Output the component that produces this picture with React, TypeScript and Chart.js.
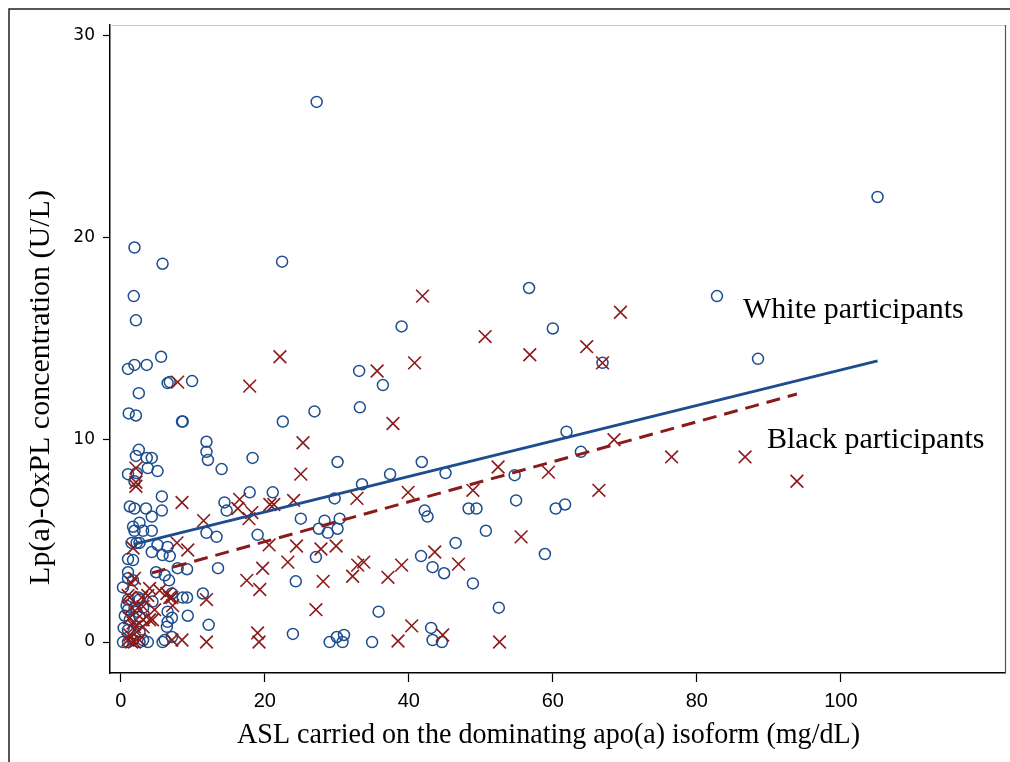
import React, { useEffect, useRef } from 'react';
import { Chart, registerables } from 'chart.js';

Chart.register(...registerables);

// White participants: ASL (mg/dL) and Lp(a)-OxPL (U/L)
const whiteAsl = [
  27.2, 105.1, 1.9, 5.8, 22.4, 1.8, 56.7, 82.8, 2.1, 39.0, 60.0, 88.5, 1.0, 1.9, 3.6, 5.6, 33.1, 36.4, 6.5, 6.8,
  9.9, 66.9, 2.5, 1.1, 2.1, 8.5, 8.6, 22.5, 26.9, 33.2, 61.9, 41.8, 30.1, 18.3, 11.9, 11.9, 12.1, 14.0, 37.4, 45.1,
  63.9, 54.7, 2.5, 2.1, 3.6, 4.3, 3.75, 5.1, 1.0, 2.2, 1.9, 33.5, 29.7, 54.9, 5.7, 14.4, 14.7, 17.9, 21.1, 1.25,
  1.9, 3.5, 5.7, 4.3, 1.7, 1.9, 2.6, 3.1, 4.3, 11.9, 13.3, 19.0, 25.0, 28.3, 30.4, 27.5, 28.75, 30.1, 42.2, 42.6,
  48.3, 49.4, 60.4, 61.7, 50.7, 46.5, 58.9, 27.1, 41.7, 43.3, 44.9, 48.9, 24.3, 52.5, 35.8, 23.9, 43.1, 29.0, 30.0, 31.0,
  30.8, 34.9, 43.3, 44.6, 2.2, 1.5, 2.6, 5.1, 6.5, 4.3, 5.8, 6.8, 1.0, 1.7, 13.5, 4.9, 6.7, 6.1, 1.0, 1.0,
  1.7, 7.9, 9.2, 11.4, 7.1, 8.6, 9.2, 4.4, 2.6, 1.0, 6.5, 9.3, 1.0, 2.2, 1.25, 2.6, 6.5, 7.1, 12.2, 1.0,
  2.6, 6.4, 7.1, 1.0, 1.7, 2.6, 3.1, 3.75, 5.8, 0.3, 0.4, 0.55, 0.3, 2.4, 3.1, 0.8, 1.9, 6.1,
];
const whiteOxpl = [
  26.7, 22.0, 19.5, 18.7, 18.8, 17.1, 17.5, 17.1, 15.9, 15.6, 15.5, 14.0, 13.5, 13.7, 13.7, 14.1, 13.4, 12.7, 12.8, 12.85,
  12.9, 13.8, 12.3, 11.3, 11.2, 10.9, 10.9, 10.9, 11.4, 11.6, 10.4, 8.9, 8.9, 9.1, 9.9, 9.4, 9.0, 8.55, 8.3, 8.35,
  9.4, 8.25, 9.5, 9.2, 9.1, 9.1, 8.6, 8.45, 8.3, 8.35, 7.95, 7.8, 7.1, 7.0, 7.2, 6.9, 6.5, 7.4, 7.4, 6.7,
  6.6, 6.6, 6.5, 6.2, 5.7, 5.5, 5.9, 5.5, 5.5, 5.4, 5.2, 5.3, 6.1, 6.0, 6.1, 5.6, 5.4, 5.6, 6.5, 6.2,
  6.6, 6.6, 6.6, 6.8, 5.5, 4.9, 4.35, 4.2, 4.25, 3.7, 3.4, 2.9, 3.0, 1.7, 1.5, 0.4, 0.7, 0.0, 0.25, 0.35,
  0.0, 0.0, 0.1, 0.0, 4.9, 4.9, 4.9, 4.8, 4.7, 4.45, 4.3, 4.25, 4.1, 4.05, 3.65, 3.45, 3.05, 3.3, 3.45, 3.15,
  3.05, 3.65, 3.6, 2.4, 2.4, 2.2, 2.2, 2.0, 2.1, 2.1, 1.5, 1.3, 1.6, 1.5, 1.1, 1.25, 1.0, 1.2, 0.85, 0.6,
  0.5, 0.75, 0.25, 0.0, 0.1, 0.0, 0.1, 0.0, 0.0, 0.0, 0.7, 1.3, 2.7, 2.2, 1.7, 1.8, 1.7, 0.1,
];

// Black participants
const blackAsl = [
  41.9, 69.4, 50.6, 64.7, 56.8, 22.1, 40.8, 35.6, 66.9, 7.9, 17.9, 37.8, 25.3, 68.5, 76.5, 86.7, 93.9, 66.4, 25.0, 52.4,
  59.4, 39.9, 48.9, 32.8, 24.0, 16.5, 16.25, 18.2, 17.8, 20.7, 21.25, 11.5, 8.5, 2.1, 2.1, 2.1, 20.6, 24.4, 23.2, 19.7,
  17.5, 19.3, 11.9, 27.1, 11.9, 19.0, 19.2, 27.8, 29.9, 28.1, 32.2, 32.9, 33.75, 37.1, 39.0, 43.6, 46.9, 55.6, 40.4, 44.7,
  38.5, 52.6, 7.8, 9.3, 1.7, 1.9, 1.5, 4.0, 5.4, 6.4, 7.1, 1.25, 2.9, 1.5, 3.1, 4.7, 7.2, 1.25, 3.1, 4.0,
  1.9, 3.1, 1.25, 1.0, 1.9, 7.1, 8.5, 3.75, 1.0, 6.8, 2.4, 4.4, 1.7, 2.2, 1.5, 2.6,
];
const blackOxpl = [
  17.1, 16.3, 15.1, 14.6, 14.2, 14.1, 13.8, 13.4, 13.8, 12.85, 12.65, 10.8, 9.85, 10.0, 9.15, 9.15, 7.95, 7.5, 8.3, 8.65,
  8.4, 7.4, 7.5, 7.1, 7.0, 7.05, 6.6, 6.4, 6.1, 6.8, 6.8, 6.0, 6.9, 8.6, 7.9, 7.7, 4.8, 4.75, 3.95, 3.65,
  3.05, 2.6, 2.1, 1.6, 0.0, 0.45, 0.0, 4.6, 4.75, 3.0, 3.25, 3.8, 3.95, 3.2, 3.8, 4.45, 3.85, 5.2, 0.8, 0.35,
  0.05, 0.0, 4.9, 4.55, 4.65, 3.15, 2.9, 2.65, 2.55, 2.4, 2.2, 2.2, 2.2, 1.7, 1.75, 1.6, 1.8, 1.2, 1.1, 1.1,
  0.75, 0.75, 0.35, 0.1, 0.0, 0.1, 0.1, 2.3, 2.3, 2.2, 1.7, 1.1, 0.95, 0.5, 0.0, 0.1,
];

// Fitted lines (end points)
const whiteFitX = [1.9, 105.1];
const whiteFitY = [4.84, 13.9];
const blackFitX = [4.3, 93.9];
const blackFitY = [3.41, 12.26];

const xTicks = [0, 20, 40, 60, 80, 100];
const yTicks = [0, 10, 20, 30];

const xTitle = 'ASL carried on the dominating apo(a) isoform (mg/dL)';
const yTitle = 'Lp(a)-OxPL concentration (U/L)';
const whiteLabel = 'White participants';
const blackLabel = 'Black participants';

const BLUE = '#1d4d8e';
const RED = '#8b1a1a';

const toPoints = (xs: number[], ys: number[]) => xs.map((x, i) => ({ x, y: ys[i] }));

export default function App() {
  const ref = useRef<HTMLCanvasElement>(null);

  useEffect(() => {
    if (!ref.current) return;
    const decor = {
      id: 'decor',
      beforeDraw(chart: any) {
        const ctx = chart.ctx;
        ctx.save();
        ctx.fillStyle = '#fff';
        ctx.fillRect(0, 0, chart.width, chart.height);
        ctx.strokeStyle = '#222';
        ctx.lineWidth = 1.5;
        ctx.beginPath();
        ctx.moveTo(9, chart.height);
        ctx.lineTo(9, 9);
        ctx.lineTo(chart.width, 9);
        ctx.stroke();
        ctx.restore();
      },
      afterDraw(chart: any) {
        const ctx = chart.ctx;
        const a = chart.chartArea;
        ctx.save();
        ctx.lineWidth = 1;
        ctx.strokeStyle = '#c8c8c8';
        ctx.beginPath();
        ctx.moveTo(a.left, a.top + 0.5);
        ctx.lineTo(a.right, a.top + 0.5);
        ctx.stroke();
        ctx.strokeStyle = '#555';
        ctx.lineWidth = 1.2;
        ctx.beginPath();
        ctx.moveTo(a.right + 0.5, a.top);
        ctx.lineTo(a.right + 0.5, a.bottom);
        ctx.stroke();

        ctx.fillStyle = '#000';
        ctx.font = '30px "Liberation Serif", "Times New Roman", serif';
        ctx.textBaseline = 'alphabetic';
        ctx.textAlign = 'center';
        ctx.fillText(xTitle, 548.5, 743, 623);
        ctx.save();
        ctx.translate(49, 387.5);
        ctx.rotate(-Math.PI / 2);
        ctx.fillText(yTitle, 0, 0);
        ctx.restore();
        ctx.textAlign = 'left';
        ctx.fillText(whiteLabel, 743, 318);
        ctx.fillText(blackLabel, 767, 448);
        ctx.restore();
      },
    };

    const chart = new Chart(ref.current, {
      type: 'scatter',
      data: {
        datasets: [
          {
            type: 'line',
            label: 'White fit',
            data: toPoints(whiteFitX, whiteFitY),
            borderColor: BLUE,
            borderWidth: 3,
            pointRadius: 0,
            fill: false,
            order: 0,
          } as any,
          {
            type: 'line',
            label: 'Black fit',
            data: toPoints(blackFitX, blackFitY),
            borderColor: RED,
            borderWidth: 3,
            borderDash: [14, 8],
            pointRadius: 0,
            fill: false,
            order: 1,
          } as any,
          {
            label: 'Black participants',
            data: toPoints(blackAsl, blackOxpl),
            pointStyle: 'crossRot',
            pointRadius: 9,
            borderColor: RED,
            backgroundColor: RED,
            borderWidth: 1.6,
            order: 2,
          },
          {
            label: 'White participants',
            data: toPoints(whiteAsl, whiteOxpl),
            pointStyle: 'circle',
            pointRadius: 5.5,
            borderColor: BLUE,
            backgroundColor: 'rgba(0,0,0,0)',
            borderWidth: 1.5,
            order: 3,
          },
        ],
      },
      options: {
        responsive: false,
        animation: false,
        devicePixelRatio: 1,
        layout: { autoPadding: false, padding: { left: 0, top: 25, right: 5, bottom: 0 } },
        plugins: { legend: { display: false }, tooltip: { enabled: false } },
        scales: {
          x: {
            type: 'linear',
            min: -1.5,
            max: 122.8,
            afterBuildTicks: (s: any) => {
              s.ticks = xTicks.map((v) => ({ value: v }));
            },
            afterFit: (s: any) => {
              s.height = 89;
              s.paddingLeft = 0;
              s.paddingRight = 0;
            },
            grid: { drawOnChartArea: false, tickLength: 9, tickColor: '#000', tickWidth: 1.2 },
            border: { color: '#000', width: 1.5 },
            ticks: {
              color: '#000',
              padding: 7,
              maxRotation: 0,
              autoSkip: false,
              font: { family: '"Liberation Sans Narrow", "Liberation Sans", Arial, sans-serif', size: 20 },
            },
          },
          y: {
            type: 'linear',
            min: -1.53,
            max: 30.5,
            afterBuildTicks: (s: any) => {
              s.ticks = yTicks.map((v) => ({ value: v }));
            },
            afterFit: (s: any) => {
              s.width = 110;
              s.paddingTop = 0;
              s.paddingBottom = 0;
            },
            grid: { drawOnChartArea: false, tickLength: 7, tickColor: '#000', tickWidth: 1.2 },
            border: { color: '#000', width: 1.5 },
            ticks: {
              color: '#000',
              padding: 8,
              autoSkip: false,
              font: { family: '"DejaVu Sans", sans-serif', size: 17 },
            },
          },
        },
      },
      plugins: [decor],
    } as any);

    return () => chart.destroy();
  }, []);

  return (
    <div style={{ position: 'fixed', left: 0, top: 0, width: 1010, height: 762, background: '#fff' }}>
      <canvas ref={ref} width={1010} height={762} style={{ display: 'block', width: 1010, height: 762 }} />
    </div>
  );
}
